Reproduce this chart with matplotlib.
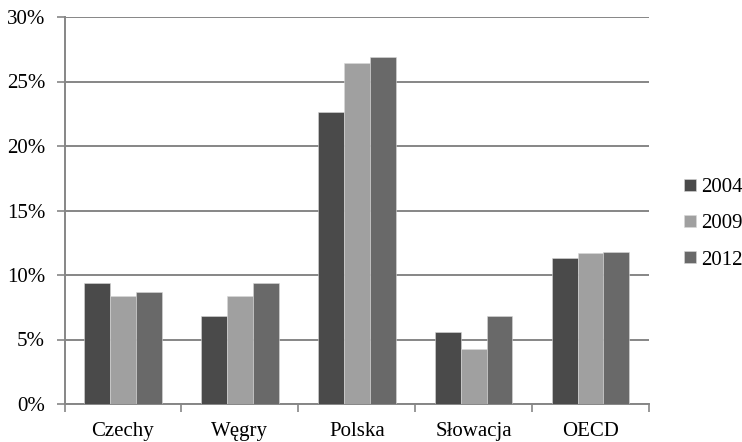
import matplotlib
matplotlib.use("Agg")
import matplotlib.pyplot as plt
import numpy as np
from matplotlib.ticker import FuncFormatter

categories = ["Czechy", "Węgry", "Polska", "Słowacja", "OECD"]
years = ["2004", "2009", "2012"]
v2004 = [9.4, 6.8, 22.6, 5.6, 11.3]
v2009 = [8.4, 8.4, 26.4, 4.3, 11.7]
v2012 = [8.7, 9.4, 26.9, 6.8, 11.8]
colors = ["#4a4a4a", "#a0a0a0", "#696969"]
yticks = [0, 5, 10, 15, 20, 25, 30]

plt.rcParams['font.family'] = ['Liberation Serif', 'DejaVu Serif']

fig = plt.figure(figsize=(7.42, 4.42), dpi=100)
ax = fig.add_axes([64.5/742, 1-404/442, (649-64.5)/742, (404-17)/442])

x = np.arange(len(categories))
w = 0.221
series = [v2004, v2009, v2012]
handles = []
for i, (vals, c) in enumerate(zip(series, colors)):
    b = ax.bar(x + (i-1)*w, vals, width=w, color=c, edgecolor="#d8d8d8",
               linewidth=0.4, zorder=3, label=years[i])
    handles.append(b)

ax.set_xlim(-0.5, len(categories)-0.5)
ax.set_ylim(0, 30)
ax.set_yticks(yticks)
ax.yaxis.set_major_formatter(FuncFormatter(lambda v, p: f"{int(v)}%"))
ax.yaxis.grid(True, color="#868686", linewidth=1.4, zorder=0)
ax.set_axisbelow(True)

ax.set_xticks(x)
ax.set_xticklabels(categories, fontsize=15)
ax.tick_params(axis='x', which='major', length=0, pad=13)
ax.set_xticks(np.arange(-0.5, len(categories)), minor=True)
ax.tick_params(axis='x', which='minor', length=6, width=1.2, color="#868686", direction='out')
ax.tick_params(axis='y', length=6, width=1.2, color="#868686", labelsize=15, pad=8)

for s in ["top", "right"]:
    ax.spines[s].set_visible(False)
for s in ["left", "bottom"]:
    ax.spines[s].set_color("#868686")
    ax.spines[s].set_linewidth(1.4)

leg = fig.legend(handles=handles, labels=years, loc="center left",
                 bbox_to_anchor=(676/742, 1-224/442), frameon=False,
                 fontsize=15, handlelength=0.55, handleheight=0.55,
                 handletextpad=0.25, labelspacing=0.82, borderaxespad=0)

fig.savefig("out.png", dpi=100)
